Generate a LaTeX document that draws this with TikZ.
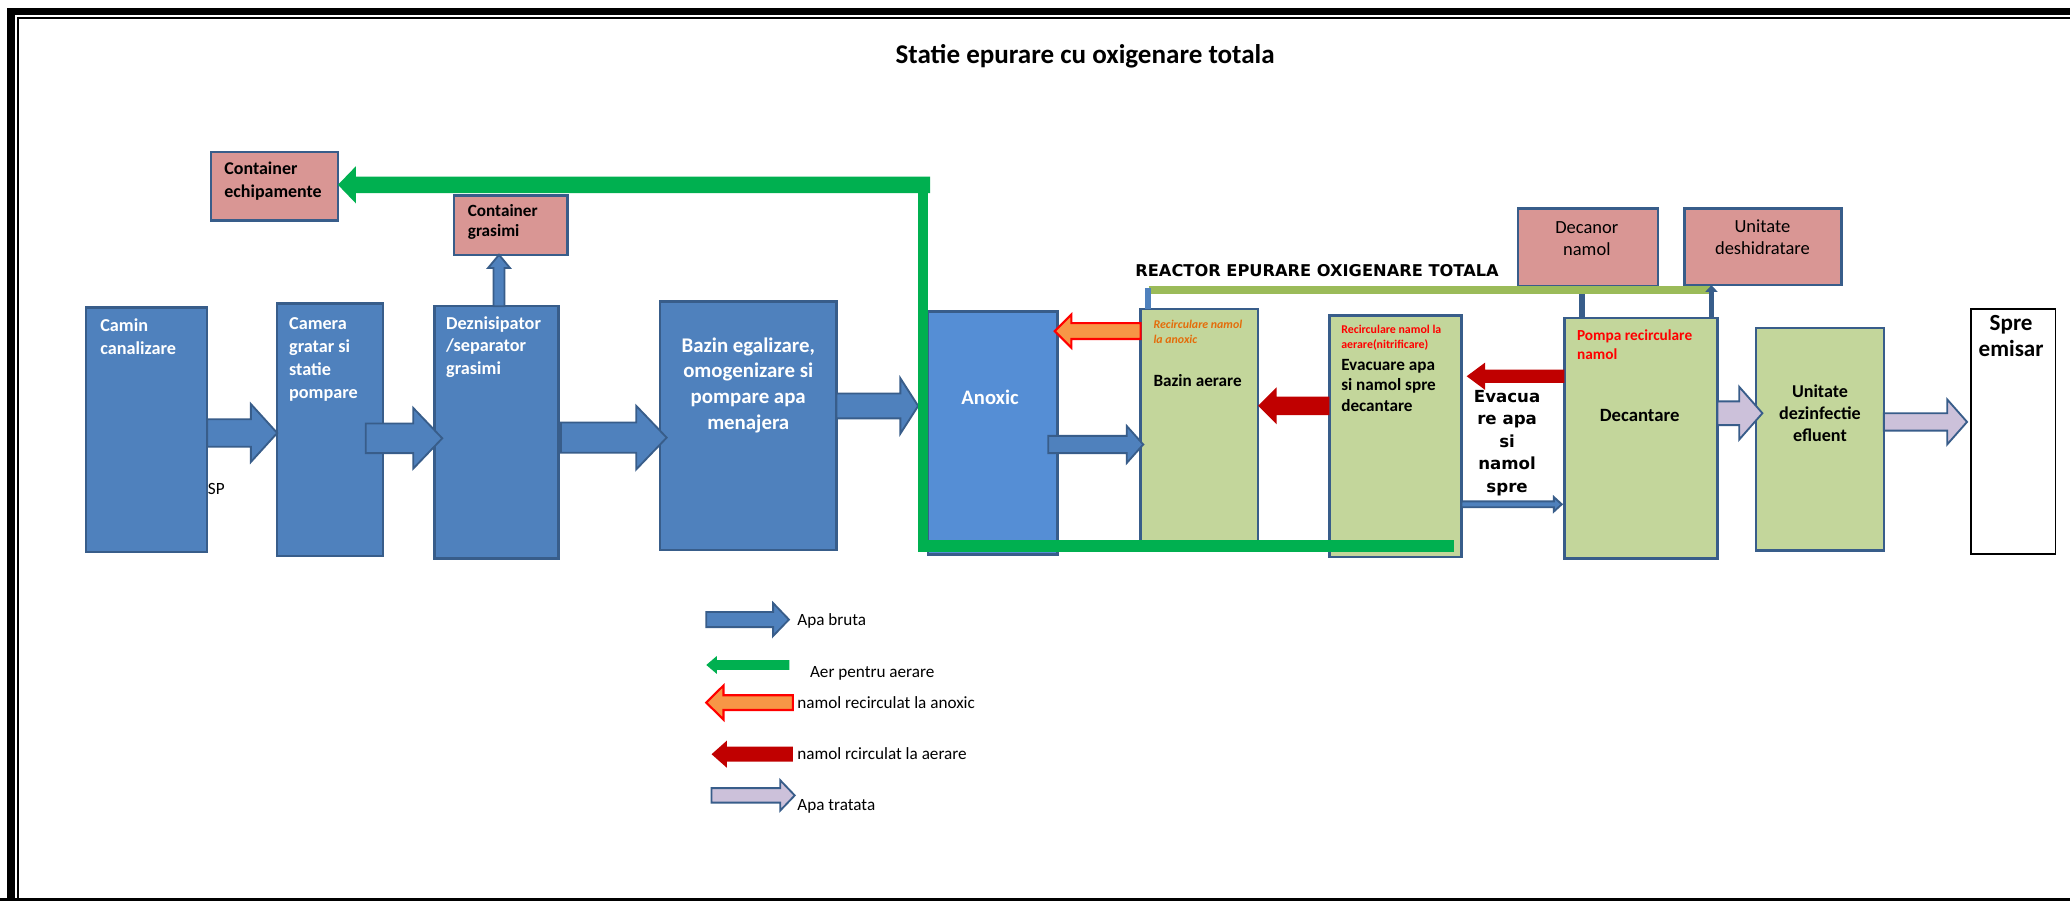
\documentclass[tikz,border=0pt]{standalone}
\usepackage{fontspec}
\setmainfont{Carlito}
\newfontfamily\djv{DejaVu Sans}
\usetikzlibrary{calc,arrows.meta}
\definecolor{bfill}{HTML}{4F81BD}
\definecolor{bbord}{HTML}{385D8A}
\definecolor{afill}{HTML}{558ED5}
\definecolor{pfill}{HTML}{D99694}
\definecolor{gfill}{HTML}{C3D69B}
\definecolor{agreen}{HTML}{00B050}
\definecolor{olivel}{HTML}{9BBB59}
\definecolor{ofill}{HTML}{F79646}
\definecolor{otext}{HTML}{E46C0A}
\definecolor{dred}{HTML}{C00000}
\definecolor{lav}{HTML}{CCC1DA}
\newcommand\fsz[2]{\fontsize{#1}{#2}\selectfont}
% block arrow: style, from, to, half shaft, half head, head length
\newcommand\blockarrow[6]{%
  \path (#2) coordinate (bas) (#3) coordinate (bat);
  \path ($(bat)!#6!(bas)$) coordinate (bab);
  \draw[#1] ($(bas)!#4!90:(bat)$) -- ($(bab)!#4!90:(bat)$) -- ($(bab)!#5!90:(bat)$)
     -- (bat) -- ($(bab)!#5!-90:(bat)$) -- ($(bab)!#4!-90:(bat)$) -- ($(bas)!#4!-90:(bat)$) -- cycle;}
\begin{document}
\begin{tikzpicture}[x=1pt,y=-1pt,
  box/.style={draw=bbord,line width=1.8pt,inner sep=0pt,outer sep=0pt,anchor=north west},
  bluebox/.style={box,fill=bfill},
  anoxbox/.style={box,fill=afill},
  greenbox/.style={box,fill=gfill},
  pinkbox/.style={box,fill=pfill},
  txt/.style={inner sep=0pt,outer sep=0pt},
  wtxt/.style={txt,text=white,align=left},
  ktxt/.style={txt,text=black,align=left},
  barrow/.style={fill=bfill,draw=bbord,line width=1.4pt,line join=miter},
  oarrow/.style={fill=ofill,draw=red,line width=1.6pt,line join=miter},
  rarrow/.style={fill=dred,draw=none},
  larrow/.style={fill=lav,draw=bbord,line width=1.4pt,line join=miter},
  garrow/.style={fill=agreen,draw=none},
  airline/.style={draw=agreen},
]
\useasboundingbox (0,0) rectangle (1568,682);
\clip (0,0) rectangle (1568,682);
\fill[white] (0,0) rectangle (1568,682);
% frame
\draw[line width=6pt] (8,690) -- (8,8.7) -- (1600,8.7);
\draw[line width=6pt] (0,683) -- (1600,683);
\draw[line width=1.3pt] (13.5,690) -- (13.5,13.6) -- (1600,13.6);

% title
\node[txt,font=\fsz{20.5}{24}\bfseries] (title) at (822,43) {Statie epurare cu oxigenare totala};

% main boxes
\node[bluebox,minimum width=92pt,minimum height=185pt] (camin) at (65,233) {};
\node[bluebox,minimum width=80pt,minimum height=191pt] (camera) at (210,230) {};
\node[bluebox,minimum width=94pt,minimum height=191pt] (dezni) at (329,232) {};
\node[bluebox,minimum width=133.5pt,minimum height=188pt] (bazin) at (500,228.5) {};
\node[anoxbox,minimum width=98pt,minimum height=184pt] (anoxic) at (703,236) {};
\node[greenbox,minimum width=89pt,minimum height=183pt] (aerare) at (864,234) {};
\node[greenbox,minimum width=100pt,minimum height=183pt] (evac) at (1007,239) {};
\node[greenbox,minimum width=116pt,minimum height=182pt] (decant) at (1185,241) {};
\node[greenbox,minimum width=97pt,minimum height=168.5pt] (dezinf) at (1330,248.5) {};
\node[box,draw=black,line width=1.5pt,fill=white,minimum width=64pt,minimum height=186pt] (emisar) at (1493,234) {};
\node[pinkbox,minimum width=96pt,minimum height=52pt] (cech) at (160,115) {};
\node[pinkbox,minimum width=86pt,minimum height=45pt] (cgras) at (344,148) {};
\node[pinkbox,minimum width=106pt,minimum height=59pt] (decanor) at (1150,158) {};
\node[pinkbox,minimum width=119pt,minimum height=58pt] (deshid) at (1276,158) {};

% box texts
\node[ktxt,anchor=west,font=\fsz{13.6}{17.2}\bfseries] (cech-t) at (170,137.4) {Container\\echipamente};
\node[ktxt,anchor=west,font=\fsz{13}{15.2}\bfseries] (cgras-t) at (354.4,167.9) {Container\\grasimi};
\node[wtxt,anchor=west,font=\fsz{13.8}{17.4}\bfseries] (camin-t) at (76,254.7) {Camin\\canalizare};
\node[wtxt,anchor=west,font=\fsz{13.8}{17.5}\bfseries] (camera-t) at (219,272.3) {Camera\\gratar si\\statie\\pompare};
\node[wtxt,anchor=west,font=\fsz{13.8}{17}\bfseries] (dezni-t) at (338,262.8) {Deznisipator\\/separator\\grasimi};
\node[wtxt,align=center,font=\fsz{15.8}{19.5}\bfseries] (bazin-t) at (566.8,291.8) {Bazin egalizare,\\omogenizare si\\pompare apa\\menajera};
\node[wtxt,font=\fsz{15.6}{19}\bfseries] (anoxic-t) at (750,300.8) {Anoxic};
\node[txt,text=otext,anchor=west,align=left,font=\fsz{9}{11}\bfseries\itshape] (aerare-r) at (873.8,251.5) {Recirculare namol\\la anoxic};
\node[ktxt,anchor=west,font=\fsz{13}{16}\bfseries] (aerare-t) at (873.8,288) {Bazin aerare};
\node[txt,text=red,anchor=west,align=left,font=\fsz{9}{11.4}\bfseries] (evac-r) at (1016,255.7) {Recirculare namol la\\aerare(nitrificare)};
\node[ktxt,anchor=west,font=\fsz{13}{15.4}\bfseries] (evac-t) at (1016,291.9) {Evacuare apa\\si namol spre\\decantare};
\node[ktxt,align=center,font=\djv\fsz{12.6}{17}\bfseries] (evac-l) at (1141.6,335.6) {Evacua\\re apa\\si\\namol\\spre};
\node[txt,text=red,anchor=west,align=left,font=\fsz{11.6}{14}\bfseries] (decant-r) at (1194.6,261.2) {Pompa recirculare\\namol};
\node[ktxt,font=\fsz{14.2}{17}\bfseries] (decant-t) at (1242,314.4) {Decantare};
\node[ktxt,align=center,font=\fsz{13.7}{16.8}\bfseries] (dezinf-t) at (1378.6,312.8) {Unitate\\dezinfectie\\efluent};
\node[ktxt,align=center,font=\fsz{17.5}{20}\bfseries] (emisar-t) at (1523.4,254.4) {Spre\\emisar};
\node[ktxt,align=center,font=\fsz{14}{16.6}] (decanor-t) at (1202,181.1) {Decanor\\namol};
\node[ktxt,align=center,font=\fsz{14}{17}] (deshid-t) at (1335,179.5) {Unitate\\deshidratare};
\node[ktxt,anchor=west,font=\djv\fsz{12.3}{14}\bfseries] (reactor) at (860,205) {REACTOR EPURARE OXIGENARE TOTALA};
\node[ktxt,anchor=west,font=\fsz{13}{15}] (sp) at (157.5,370.6) {SP};

% reactor bracket and sludge lines
\coordinate (decA) at ($(decant.north west)+(13.5,0)$);
\coordinate (decB) at ($(decant.north east)+(-4.6,0)$);
\coordinate (aerA) at ($(aerare.north west)+(5.6,0)$);
\coordinate (aerB) at ($(aerare.north west)+(5.6,-16)$);
\draw[bbord,line width=4.7pt] (decA) -- (decA |- decanor.south);
\draw[olivel,line width=6pt] ($(aerare.north west)+(6,-14)$) coordinate (olA) -- ($(decant.north east)+(-5,-21)$) coordinate (olB);
\draw[bfill,line width=4pt] (aerA) -- (aerB);
\draw[bbord,line width=4pt,-{Triangle[width=9pt,length=5pt]}] (decB) -- (decB |- deshid.south);

% process arrows (apa bruta)
\blockarrow{barrow}{camin.east|-0,328}{camera.west|-0,328}{10.4pt}{22pt}{20pt}
\blockarrow{barrow}{$(camera.east|-0,332)+(-13,0)$}{$(dezni.west|-0,332)+(6,0)$}{11.2pt}{23pt}{22pt}
\blockarrow{barrow}{$(dezni.east|-0,331.5)+(2,0)$}{$(bazin.west|-0,331.5)+(5,0)$}{11.5pt}{24pt}{23pt}
\blockarrow{barrow}{bazin.east|-0,307.5}{$(anoxic.west|-0,307.5)+(-7.5,0)$}{9.4pt}{21pt}{13.5pt}
\blockarrow{barrow}{$(anoxic.east|-0,336.7)+(-7,0)$}{$(aerare.west|-0,336.7)+(2,0)$}{6.5pt}{14pt}{12.5pt}
\blockarrow{barrow}{$(dezni.north west)+(49,0)$}{$(cgras.south west)+(34,0)$}{4.2pt}{8.3pt}{10pt}

% sludge recirculation
\blockarrow{oarrow}{aerare.west|-0,250.8}{$(anoxic.east|-0,250.8)+(-2,0)$}{6pt}{12.5pt}{12.5pt}
\blockarrow{rarrow}{evac.west|-0,307.4}{aerare.east|-0,307.4}{7pt}{14pt}{14pt}
\blockarrow{rarrow}{decant.west|-0,285}{$(evac.east|-0,285)+(4,0)$}{5pt}{10.4pt}{14pt}
\blockarrow{barrow}{evac.east|-0,382}{$(decant.west|-0,382)+(-2,0)$}{2.2pt}{5.5pt}{6pt}

% treated water
\blockarrow{larrow}{decant.east|-0,313}{$(dezinf.west|-0,313)+(5,0)$}{9pt}{20pt}{17.6pt}
\blockarrow{larrow}{dezinf.east|-0,319.6}{$(emisar.west|-0,319.6)+(-3,0)$}{6.6pt}{17pt}{15pt}

% air line
\coordinate (airend) at (1101.5,413.5);
\coordinate (aircorner) at (699,413.5);
\coordinate (airtop) at (699,134);
\coordinate (airjoin) at (704.5,140);
\draw[airline,line width=9pt] (airend) -- ($(aircorner)+(-4,0)$);
\draw[airline,line width=8pt] ($(aircorner)+(0,4.5)$) -- (airtop);
\blockarrow{garrow}{airjoin}{cech.east|-0,140}{6.3pt}{14pt}{13.5pt}

% legend
\coordinate (lg1a) at (535,469.3); \coordinate (lg1b) at (597.6,469.3);
\coordinate (lg2a) at (598,503.7); \coordinate (lg2b) at (535,503.7);
\coordinate (lg3a) at (600.6,532.2); \coordinate (lg3b) at (535,532.2);
\coordinate (lg4a) at (600.6,571.3); \coordinate (lg4b) at (539,571.3);
\coordinate (lg5a) at (539,602.5); \coordinate (lg5b) at (602,602.5);
\blockarrow{barrow}{lg1a}{lg1b}{5.7pt}{12.5pt}{12pt}
\blockarrow{garrow}{lg2a}{lg2b}{3.75pt}{6.8pt}{8pt}
\blockarrow{oarrow}{lg3a}{lg3b}{5.6pt}{12.9pt}{13pt}
\blockarrow{rarrow}{lg4a}{lg4b}{5.7pt}{10.3pt}{11.6pt}
\blockarrow{larrow}{lg5a}{lg5b}{5.5pt}{11.5pt}{11pt}
\node[ktxt,anchor=west,font=\fsz{13}{15}] (lg1t) at (604,470) {Apa bruta};
\node[ktxt,anchor=west,font=\fsz{13}{15}] (lg2t) at (613.6,510) {Aer pentru aerare};
\node[ktxt,anchor=west,font=\fsz{13}{15}] (lg3t) at (604,532.5) {namol recirculat la anoxic};
\node[ktxt,anchor=west,font=\fsz{13}{15}] (lg4t) at (604,571) {namol rcirculat la aerare};
\node[ktxt,anchor=west,font=\fsz{13}{15}] (lg5t) at (604,611) {Apa tratata};
\end{tikzpicture}
\end{document}
